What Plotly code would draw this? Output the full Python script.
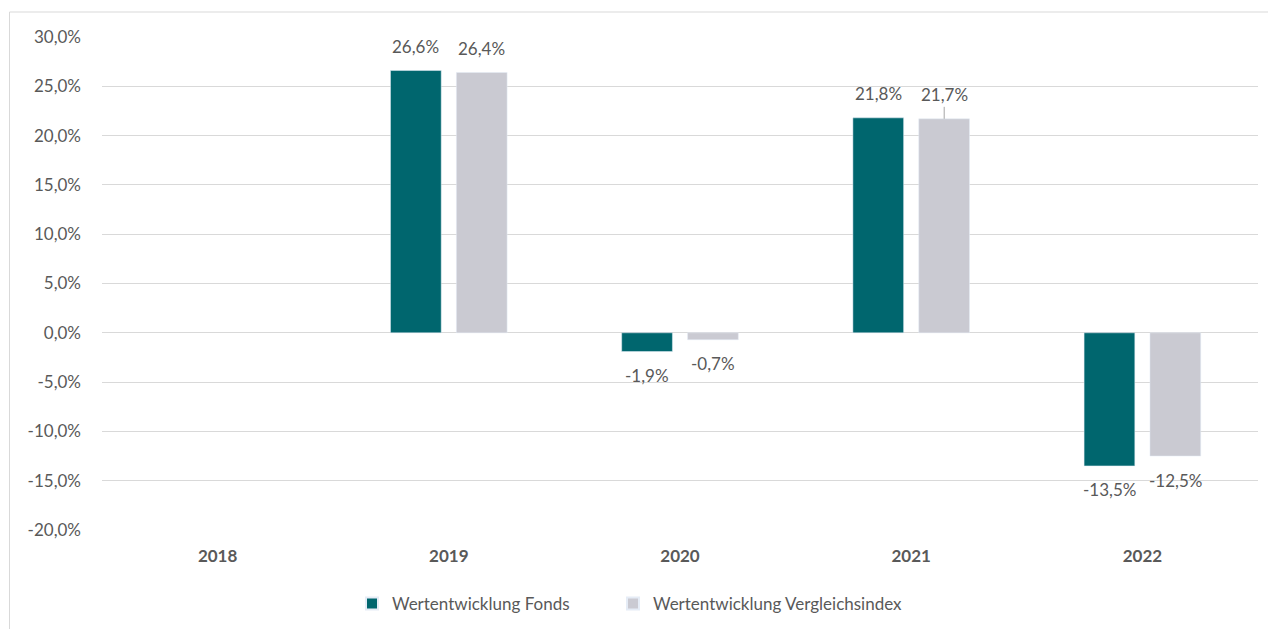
import plotly.graph_objects as go

years = ["2018", "2019", "2020", "2021", "2022"]
fonds = [None, 26.6, -1.9, 21.8, -13.5]
index = [None, 26.4, -0.7, 21.7, -12.5]
series_names = ["Wertentwicklung Fonds", "Wertentwicklung Vergleichsindex"]
y_ticks = [30, 25, 20, 15, 10, 5, 0, -5, -10, -15, -20]

TEAL = "#00666E"
GRAY = "#CACAD2"
TXT = "#595959"
FONT = "Lato"
FS = 17

fig = go.Figure()
fig.add_trace(go.Bar(x=years, y=fonds, name=series_names[0], marker_color=TEAL, legend="legend"))
fig.add_trace(go.Bar(x=years, y=index, name=series_names[1], marker_color=GRAY, legend="legend2"))

def fmt(v):
    return f"{v:.1f}".replace(".", ",") + "%"

# data labels (category axis: annotation x given as category index)
for vals, shift in ((fonds, -33), (index, 33)):
    for i, (yr, v) in enumerate(zip(years, vals)):
        if v is None:
            continue
        leader = (vals is index and yr == "2021")
        fig.add_annotation(
            x=i, y=v, xshift=shift, text=fmt(v),
            showarrow=True, ax=0, ay=(-24 if v >= 0 else 24),
            arrowhead=0, arrowwidth=1,
            arrowcolor=("#A6A6A6" if leader else "rgba(0,0,0,0)"),
            standoff=0, startstandoff=0,
            font=dict(family=FONT, size=FS, color=TXT),
        )

# chart frame (top and left edges)
L, R, T, B = 102, 10, 37, 99
W, H = 1268 - L - R, 629 - T - B
px = lambda x: (x - L) / W
py = lambda y: (629 - B - y) / H
fig.add_shape(type="line", xref="paper", yref="paper", x0=px(9.5), x1=px(1268), y0=py(12), y1=py(12),
              line=dict(color="#D9D9D9", width=1))
fig.add_shape(type="line", xref="paper", yref="paper", x0=px(9.5), x1=px(9.5), y0=py(12), y1=py(629),
              line=dict(color="#D9D9D9", width=1))

leg_common = dict(orientation="h", xanchor="left", yanchor="middle", y=py(604),
                  font=dict(family=FONT, size=FS, color=TXT), itemsizing="constant", itemwidth=30)

fig.update_layout(
    width=1268, height=629,
    margin=dict(l=L, r=R, t=T, b=B, autoexpand=False),
    paper_bgcolor="white", plot_bgcolor="white",
    separators=",.",
    barmode="group", bargap=0.43, bargroupgap=0.23,
    font=dict(family=FONT, size=FS, color=TXT),
    showlegend=True,
    legend=dict(x=px(352), **leg_common),
    legend2=dict(x=px(613), **leg_common),
    xaxis=dict(type="category", categoryorder="array", categoryarray=years,
               range=[-0.5, len(years) - 0.5], autorange=False,
               showgrid=False, showline=False, zeroline=False,
               ticks="outside", ticklen=11, tickcolor="rgba(0,0,0,0)",
               tickfont=dict(family=FONT, size=FS, color=TXT, weight="bold")),
    yaxis=dict(range=[-20, 30], tickvals=y_ticks, ticktext=[fmt(t) for t in y_ticks],
               showgrid=True, gridcolor="#D9D9D9", gridwidth=1,
               zeroline=True, zerolinecolor="#D9D9D9", zerolinewidth=1,
               showline=False, ticks="", ticklabelstandoff=20,
               tickfont=dict(family=FONT, size=FS, color=TXT)),
)

fig.write_html("out.html")
